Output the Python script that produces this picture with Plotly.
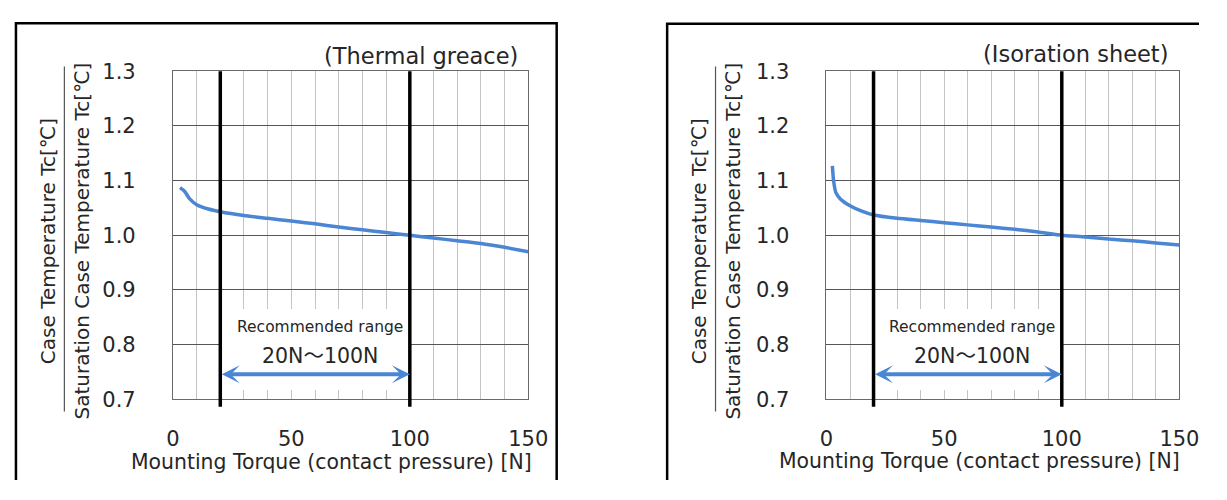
import plotly.graph_objects as go

# ---------------- data ----------------
grease_torque = [3, 5, 7, 10, 15, 20, 30, 40, 50, 60, 70, 80, 90, 100, 110, 120, 130, 140, 150]
grease_ratio = [1.087, 1.080, 1.067, 1.056, 1.048, 1.043, 1.036, 1.031, 1.026, 1.021,
                1.015, 1.010, 1.005, 1.000, 0.995, 0.990, 0.985, 0.978, 0.970]

sheet_torque = [2.5, 3, 4, 6, 10, 15, 20, 30, 40, 50, 60, 70, 80, 90, 100, 110, 120, 130, 140, 150]
sheet_ratio = [1.127, 1.100, 1.078, 1.066, 1.054, 1.044, 1.037, 1.031, 1.027, 1.023,
               1.019, 1.015, 1.011, 1.006, 1.000, 0.997, 0.993, 0.990, 0.986, 0.982]

panel_titles = ["(Thermal greace)", "(Isoration sheet)"]
range_low, range_high = 20, 100
x_title = "Mounting Torque (contact pressure) [N]"
y_num = "Case Temperature Tc[℃]"
y_den = "Saturation Case Temperature Tc[℃]"
rec_label = "Recommended range"
rec_value = "20N～100N"

# ---------------- layout helpers ----------------
# the page body keeps an 8px margin, so the figure is made to fit the window exactly
PAGE_W, PAGE_H, BODY = 1227, 500, 8
W, H = PAGE_W - 2 * BODY, PAGE_H - 2 * BODY

def px(x):
    return (x - BODY) / W

def py(y):
    return 1 - (y - BODY) / H

FONT = "DejaVu Sans, Noto Sans CJK JP"
TXT = "#262626"
BLUE = "#4a86d3"

fig = go.Figure()
fig.add_trace(go.Scatter(x=grease_torque, y=grease_ratio, mode="lines",
                         line=dict(color=BLUE, width=3.5, shape="spline", smoothing=0.5),
                         xaxis="x", yaxis="y", showlegend=False, hoverinfo="skip"))
fig.add_trace(go.Scatter(x=sheet_torque, y=sheet_ratio, mode="lines",
                         line=dict(color=BLUE, width=3.5, shape="spline", smoothing=0.5),
                         xaxis="x2", yaxis="y2", showlegend=False, hoverinfo="skip"))

ydom = [py(407), py(62)]
panels = [
    dict(xa="x", ya="y", off=0, title_right=525, title_y=45.5, xt=331.5, xt_y=473),
    dict(xa="x2", ya="y2", off=666, title_right=1189, title_y=44, xt=994.5, xt_y=472),
]

axis_common_x = dict(range=[0, 150], tick0=0, dtick=50, showgrid=True, gridcolor="#c4c4c4",
                     gridwidth=1, minor=dict(dtick=10, showgrid=True, gridcolor="#c4c4c4", gridwidth=1),
                     showline=True, linecolor="#6a6a6a", linewidth=1, mirror=True, zeroline=False,
                     ticks="", ticklabelstandoff=21, tickfont=dict(family=FONT, size=21, color=TXT),
                     fixedrange=True)
axis_common_y = dict(range=[0.7, 1.3], tick0=0.7, dtick=0.1, tickformat=".1f", showgrid=True,
                     gridcolor="#555555", gridwidth=1, showline=True, linecolor="#6a6a6a",
                     linewidth=1, mirror=True, zeroline=False, ticks="", ticklabelstandoff=32,
                     tickfont=dict(family=FONT, size=21, color=TXT), domain=ydom, fixedrange=True)

fig.update_layout(
    xaxis=dict(domain=[px(169.5), px(533)], anchor="y", **axis_common_x),
    yaxis=dict(anchor="x", **axis_common_y),
    xaxis2=dict(domain=[px(838), px(1199)], anchor="y2", **axis_common_x),
    yaxis2=dict(anchor="x2", **axis_common_y),
)

def ppath(points):
    return "M " + " L ".join(f"{x:.4f},{y:.4f}" for x, y in points)

shapes = []
annotations = []
# outer frames (kept inside the figure)
shapes.append(dict(type="path", xref="paper", yref="paper",
                   path=ppath([(px(9), 0), (px(9), py(11.5)), (px(562), py(11.5)), (px(562), 0)]),
                   line=dict(color="black", width=2.5), layer="above"))
shapes.append(dict(type="path", xref="paper", yref="paper",
                   path=ppath([(px(675), 0), (px(675), py(12)), (1, py(12))]),
                   line=dict(color="black", width=2.5), layer="above"))

for i, p in enumerate(panels):
    off = p["off"]
    xa, ya = p["xa"], p["ya"]
    # white box behind recommended range text
    shapes.append(dict(type="rect", xref=xa, yref=ya, x0=range_low, x1=range_high, y0=0.717, y1=0.865,
                       fillcolor="white", line=dict(width=0), layer="between"))
    # thick vertical lines for recommended range
    for xv in (range_low, range_high):
        shapes.append(dict(type="line", xref=xa, yref="paper", x0=xv, x1=xv, y0=py(415), y1=py(62),
                           line=dict(color="black", width=3.5), layer="above"))
    # fraction line of the y title
    shapes.append(dict(type="line", xref="paper", yref="paper", x0=px(58.5 + off), x1=px(58.5 + off),
                       y0=py(420), y1=py(57), line=dict(color="#555555", width=1.2)))
    # y title numerator / denominator
    annotations.append(dict(text=y_num, xref="paper", yref="paper", x=px(42.5 + off), y=py(241),
                            textangle=-90, showarrow=False, xanchor="center", yanchor="middle",
                            font=dict(family=FONT, size=20, color=TXT)))
    annotations.append(dict(text=y_den, xref="paper", yref="paper", x=px(76 + off), y=py(240.5),
                            textangle=-90, showarrow=False, xanchor="center", yanchor="middle",
                            font=dict(family=FONT, size=20, color=TXT)))
    # x title
    annotations.append(dict(text=x_title, xref="paper", yref="paper", x=px(p["xt"]),
                            y=py(p["xt_y"]), showarrow=False, xanchor="center", yanchor="middle",
                            font=dict(family=FONT, size=20.4, color=TXT)))
    # panel title
    annotations.append(dict(text=panel_titles[i], xref="paper", yref="paper",
                            x=px(p["title_right"]), y=py(p["title_y"]), showarrow=False,
                            xanchor="right", yanchor="middle",
                            font=dict(family=FONT, size=22.5, color=TXT)))
    # recommended range texts
    annotations.append(dict(text=rec_label, xref=xa, yref=ya, x=62, y=0.832, showarrow=False,
                            xanchor="center", yanchor="middle",
                            font=dict(family=FONT, size=15.5, color=TXT)))
    annotations.append(dict(text=rec_value, xref=xa, yref=ya, x=62, y=0.779, showarrow=False,
                            xanchor="center", yanchor="middle",
                            font=dict(family=FONT, size=20.5, color=TXT)))
    # double arrow
    annotations.append(dict(text="", xref=xa, yref=ya, x=range_high, y=0.7455,
                            axref=xa, ayref=ya, ax=range_low, ay=0.7455,
                            showarrow=True, arrowhead=3, startarrowhead=3, arrowside="end+start",
                            arrowwidth=4, arrowsize=0.75, startarrowsize=0.75,
                            arrowcolor=BLUE, standoff=0, startstandoff=0))

fig.update_layout(
    width=W, height=H, margin=dict(l=0, r=0, t=0, b=0),
    paper_bgcolor="white", plot_bgcolor="white",
    shapes=shapes, annotations=annotations, showlegend=False,
)

fig.write_html("out.html", config=dict(displayModeBar=False))
